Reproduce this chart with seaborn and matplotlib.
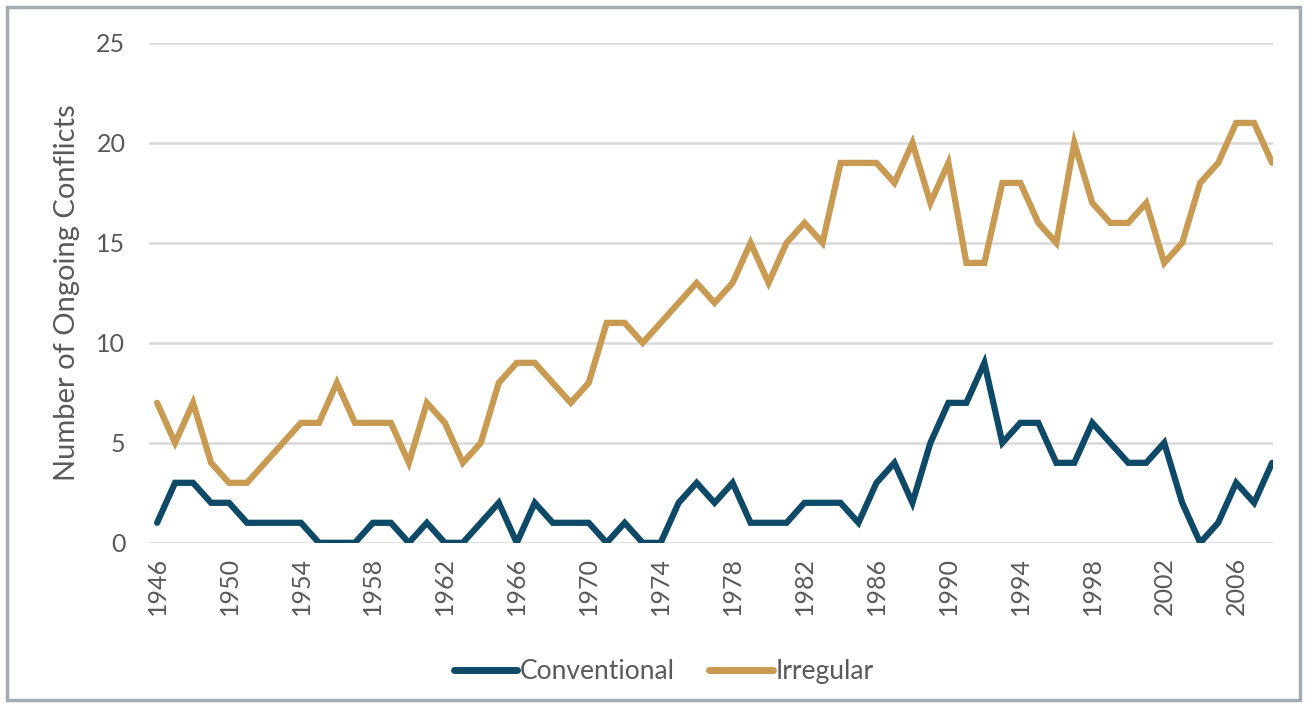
import matplotlib
matplotlib.use("Agg")
import matplotlib.pyplot as plt
import numpy as np
import pandas as pd
import seaborn as sns

years = list(range(1946, 2009))

conventional = [1, 3, 3, 2, 2, 1, 1, 1, 1, 0,
                0, 0, 1, 1, 0, 1, 0, 0, 1, 2,
                0, 2, 1, 1, 1, 0, 1, 0, 0, 2,
                3, 2, 3, 1, 1, 1, 2, 2, 2, 1,
                3, 4, 2, 5, 7, 7, 9, 5, 6, 6,
                4, 4, 6, 5, 4, 4, 5, 2, 0, 1,
                3, 2, 4]

irregular = [7, 5, 7, 4, 3, 3, 4, 5, 6, 6,
             8, 6, 6, 6, 4, 7, 6, 4, 5, 8,
             9, 9, 8, 7, 8, 11, 11, 10, 11, 12,
             13, 12, 13, 15, 13, 15, 16, 15, 19, 19,
             19, 18, 20, 17, 19, 14, 14, 18, 18, 16,
             15, 20, 17, 16, 16, 17, 14, 15, 18, 19,
             21, 21, 19]

series_names = ["Conventional", "Irregular"]
colors = ["#0E4A68", "#C89A52"]
x_ticks = list(range(1946, 2009, 4))
y_ticks = [0, 5, 10, 15, 20, 25]

df = pd.DataFrame({
    "Year": years * 2,
    "Conflicts": conventional + irregular,
    "Type": [series_names[0]] * len(years) + [series_names[1]] * len(years),
})

sns.set_theme(style="white")
plt.rcParams["font.family"] = ["Lato", "DejaVu Sans"]
text_color = "#595959"

fig = plt.figure(figsize=(13.07, 7.04), dpi=100)
ax = fig.add_axes([0.114, 0.229, 0.860, 0.710])

sns.lineplot(data=df, x="Year", y="Conflicts", hue="Type",
             palette=colors, linewidth=4.5, ax=ax,
             solid_joinstyle="miter", solid_capstyle="round")

ax.set_xlim(1945.55, 2008.05)
ax.set_ylim(0, 25)
ax.set_xticks(x_ticks)
ax.set_xticklabels([str(y) for y in x_ticks], rotation=90)
ax.set_yticks(y_ticks)
ax.yaxis.grid(True, color="#D9D9D9", linewidth=1.8)
ax.set_axisbelow(True)
for s in ax.spines.values():
    s.set_visible(False)

ax.tick_params(axis="both", length=0, labelsize=18, labelcolor=text_color)
ax.tick_params(axis="y", pad=17)
ax.tick_params(axis="x", pad=10)
ax.set_xlabel("")
ax.set_ylabel("Number of Ongoing Conflicts", fontsize=21, color=text_color, labelpad=12)

leg = ax.legend(loc="upper center", bbox_to_anchor=(0.458, -0.185), ncol=2,
                frameon=False, fontsize=19, handlelength=2.4,
                handletextpad=0.1, columnspacing=1.3)
for t in leg.get_texts():
    t.set_color(text_color)
for h in leg.get_lines():
    h.set_linewidth(5)

# outer frame around the chart
fig.patches.append(plt.Rectangle((0.005, 0.005), 0.99, 0.985, transform=fig.transFigure,
                                 fill=False, edgecolor="#A3ABB3", linewidth=2.5))

fig.savefig("out.png", dpi=100)
